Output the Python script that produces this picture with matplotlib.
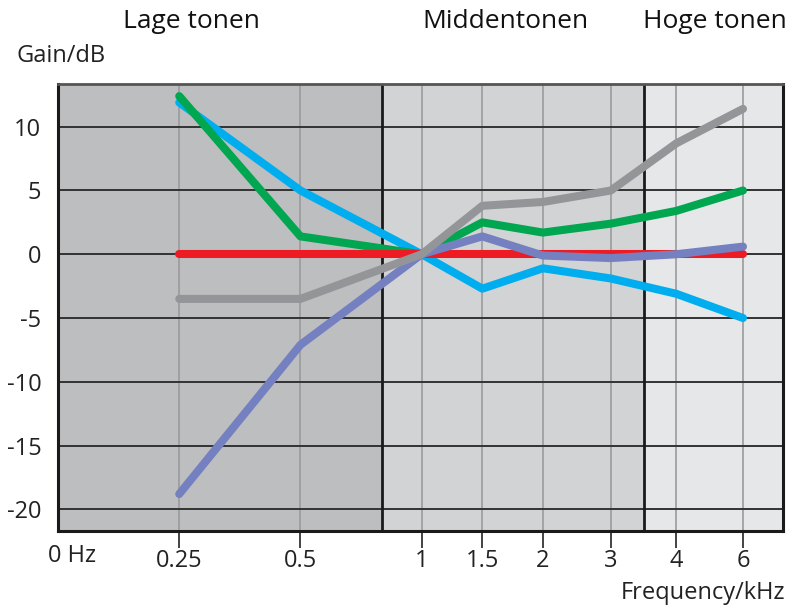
import matplotlib
matplotlib.use("Agg")
import matplotlib.pyplot as plt

# Categories (frequency in kHz) and their positions on the custom x scale
freq_labels = ["0.25", "0.5", "1", "1.5", "2", "3", "4", "6"]
freq_pos = [1, 2, 3, 3.5, 4, 4.56, 5.1, 5.65]

# Gain curves (dB)
green = [12.4, 1.4, 0.0, 2.5, 1.7, 2.4, 3.4, 5.0]
blue = [11.9, 5.0, 0.0, -2.7, -1.1, -1.9, -3.1, -5.0]
red = [0, 0, 0, 0, 0, 0, 0, 0]
gray = [-3.5, -3.5, 0.0, 3.8, 4.1, 5.0, 8.7, 11.4]
purple = [-18.8, -7.1, 0.0, 1.4, -0.1, -0.3, 0.0, 0.6]

y_ticks = [10, 5, 0, -5, -10, -15, -20]
band_names = ["Lage tonen", "Middentonen", "Hoge tonen"]
band_edges = [0, 2.67, 4.83, 5.98]

plt.rcParams['font.family'] = ['Open Sans', 'DejaVu Sans']

fig = plt.figure(figsize=(7.96, 6.08), dpi=100)
ax = fig.add_axes([58/796, 1-531/608, (783-58)/796, (531-84)/608])

xmin, xmax = band_edges[0], band_edges[-1]
ymin, ymax = -21.7, 13.35
ax.set_xlim(xmin, xmax)
ax.set_ylim(ymin, ymax)

band_colors = ["#bcbec0", "#d1d3d4", "#e6e7e8"]
for i in range(3):
    ax.axvspan(band_edges[i], band_edges[i+1], color=band_colors[i], zorder=0, lw=0)

for x in freq_pos:
    ax.axvline(x, color="#9a9b9d", lw=1.2, zorder=1)
for y in y_ticks:
    ax.axhline(y, color="#333333", lw=1.4, zorder=1)
for x in band_edges[1:3]:
    ax.axvline(x, color="#1a1a1a", lw=2.0, zorder=2)

lw = 5.8
common = dict(lw=lw, solid_capstyle="round", solid_joinstyle="round", zorder=3)
ax.plot(freq_pos, blue, color="#00aeef", **common)
ax.plot(freq_pos, green, color="#00a650", **common)
ax.plot(freq_pos, red, color="#ed1c24", **common)
ax.plot(freq_pos, purple, color="#7480c0", **common)
ax.plot(freq_pos, gray, color="#939598", **common)

fs = 17
ax.set_xticks(freq_pos)
ax.set_xticklabels(freq_labels, fontsize=fs, color="#222222")
ax.tick_params(axis="x", length=12, width=1.2, color="#222222", pad=1)
ax.set_yticks(y_ticks)
ax.set_yticklabels([str(v) for v in y_ticks], fontsize=fs, color="#222222")
ax.tick_params(axis="y", length=0, pad=12)

for s in ["left", "bottom", "right"]:
    ax.spines[s].set_color("#1a1a1a")
    ax.spines[s].set_linewidth(2.2)
ax.spines["top"].set_color("#555555")
ax.spines["top"].set_linewidth(2.0)

fig.text(72/796, 1-556/608, "0 Hz", fontsize=fs, color="#222222", ha="center", va="center")
fig.text(16/796, 1-56/608, "Gain/dB", fontsize=fs, color="#222222", ha="left", va="center")
fig.text(785/796, 1-593/608, "Frequency/kHz", fontsize=fs, color="#222222", ha="right", va="center")

band_x = [191, 505, 715]
for name, bx in zip(band_names, band_x):
    fig.text(bx/796, 1-21/608, name, fontsize=19, color="#111111", ha="center", va="center")

fig.savefig("out.png", dpi=100)
